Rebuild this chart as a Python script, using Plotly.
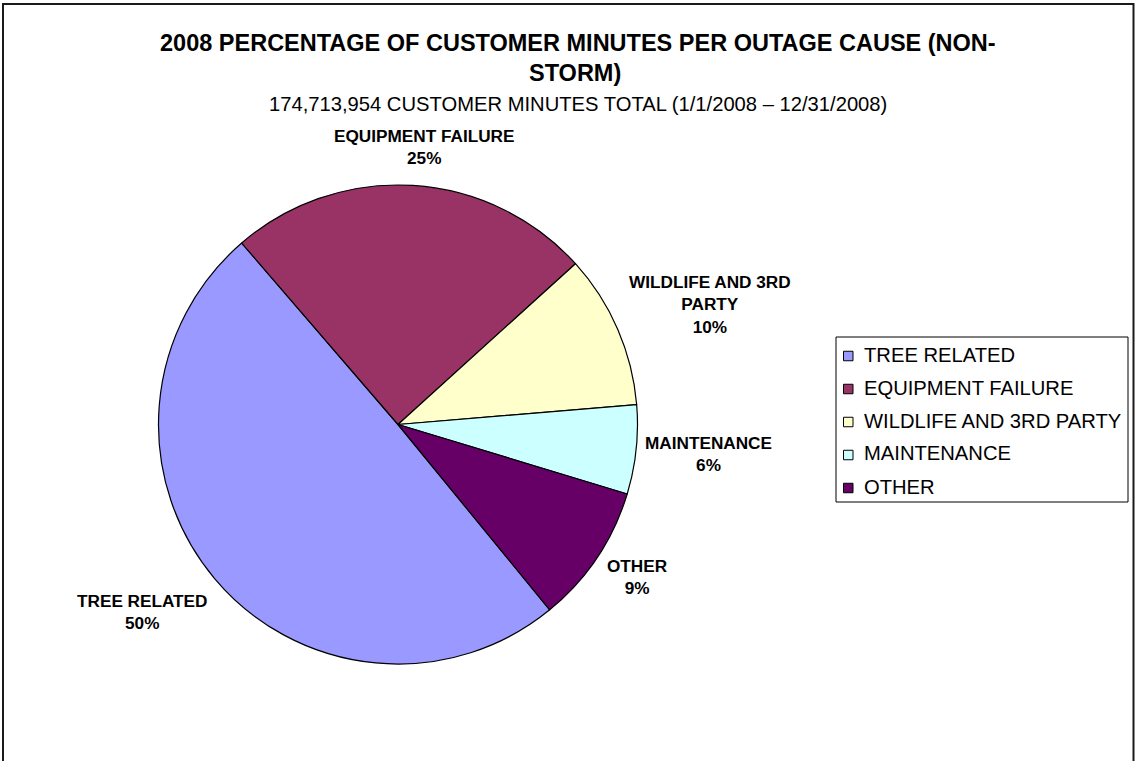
import math
import plotly.graph_objects as go

# ---- data ----
categories = ["TREE RELATED", "EQUIPMENT FAILURE", "WILDLIFE AND 3RD PARTY", "MAINTENANCE", "OTHER"]
label_lines = ["TREE RELATED", "EQUIPMENT FAILURE", "WILDLIFE AND 3RD<br>PARTY", "MAINTENANCE", "OTHER"]
shares = [49.6, 24.6, 10.4, 6.0, 9.4]
colors = ["#9999FF", "#993366", "#FFFFCC", "#CCFFFF", "#660066"]

title_line1 = "2008 PERCENTAGE OF CUSTOMER MINUTES PER OUTAGE CAUSE (NON-"
title_line2 = "STORM)"
subtitle = "174,713,954 CUSTOMER MINUTES TOTAL (1/1/2008 \u2013 12/31/2008)"

# ---- layout constants (pixels) ----
W, H = 1135, 761
CX, CY, R = 398, 424.5, 239.5
ROTATION = 140.7
label_dist = [316.6, 279, 334.5, 312.4, 283.8]
label_angle_shift = [3.8, 1.8, 2.4, -0.6, -1.2]
FONT = "Liberation Sans, Arial, sans-serif"

def px(x):
    return x / W

def py(y):
    return 1 - y / H

fig = go.Figure()
fig.add_trace(go.Pie(
    labels=categories,
    values=shares,
    sort=False,
    direction="clockwise",
    rotation=ROTATION,
    marker=dict(colors=colors, line=dict(color="#000000", width=1.2)),
    textinfo="none",
    hoverinfo="label+percent",
    showlegend=False,
    domain=dict(x=[px(CX - R), px(CX + R)], y=[py(CY + R), py(CY - R)]),
))

annotations = []
# titles
annotations.append(dict(text="<b>" + title_line1 + "</b>", x=px(577.5), y=py(43), xref="paper", yref="paper",
                        showarrow=False, xanchor="center", yanchor="middle",
                        font=dict(family=FONT, size=23.5, color="#000000")))
annotations.append(dict(text="<b>" + title_line2 + "</b>", x=px(575), y=py(73), xref="paper", yref="paper",
                        showarrow=False, xanchor="center", yanchor="middle",
                        font=dict(family=FONT, size=23.5, color="#000000")))
annotations.append(dict(text=subtitle, x=px(577.5), y=py(104), xref="paper", yref="paper",
                        showarrow=False, xanchor="center", yanchor="middle",
                        font=dict(family=FONT, size=20.2, color="#000000")))

# data labels positioned from slice mid-angles
total = sum(shares)
cum = 0.0
for i, v in enumerate(shares):
    mid = ROTATION + (cum + v / 2) / total * 360.0 + label_angle_shift[i]
    cum += v
    th = math.radians(mid)
    lx = CX + label_dist[i] * math.sin(th)
    ly = CY - label_dist[i] * math.cos(th)
    pct = round(v / total * 100)
    annotations.append(dict(text="<b>%s<br>%d%%</b>" % (label_lines[i], pct),
                            x=px(lx), y=py(ly), xref="paper", yref="paper",
                            showarrow=False, xanchor="center", yanchor="middle", align="center",
                            font=dict(family=FONT, size=17.2, color="#000000")))

shapes = []
# outer chart border
shapes.append(dict(type="rect", xref="paper", yref="paper", x0=px(3), x1=px(1133.5), y0=py(800), y1=py(4),
                   line=dict(color="#1a1a1a", width=2), fillcolor="rgba(0,0,0,0)"))
# legend box
LEG_X0, LEG_X1, LEG_Y0, LEG_Y1 = 836, 1128, 337, 502
shapes.append(dict(type="rect", xref="paper", yref="paper", x0=px(LEG_X0), x1=px(LEG_X1), y0=py(LEG_Y1), y1=py(LEG_Y0),
                   line=dict(color="#000000", width=1), fillcolor="#FFFFFF"))
ROW0, ROWSTEP, MK = 356, 33, 9.5
for i, (name, col) in enumerate(zip(categories, colors)):
    yc = ROW0 + ROWSTEP * i
    shapes.append(dict(type="rect", xref="paper", yref="paper",
                       x0=px(843.5), x1=px(843.5 + MK), y0=py(yc + MK / 2), y1=py(yc - MK / 2),
                       line=dict(color="#000000", width=1), fillcolor=col))
    annotations.append(dict(text=name, x=px(862), y=py(yc - 1.5), xref="paper", yref="paper",
                            showarrow=False, xanchor="left", yanchor="middle",
                            font=dict(family=FONT, size=20.2, color="#000000")))

fig.update_layout(
    width=W, height=H,
    margin=dict(l=0, r=0, t=0, b=0),
    paper_bgcolor="#FFFFFF",
    plot_bgcolor="#FFFFFF",
    showlegend=False,
    annotations=annotations,
    shapes=shapes,
)

fig.write_html("out.html")
